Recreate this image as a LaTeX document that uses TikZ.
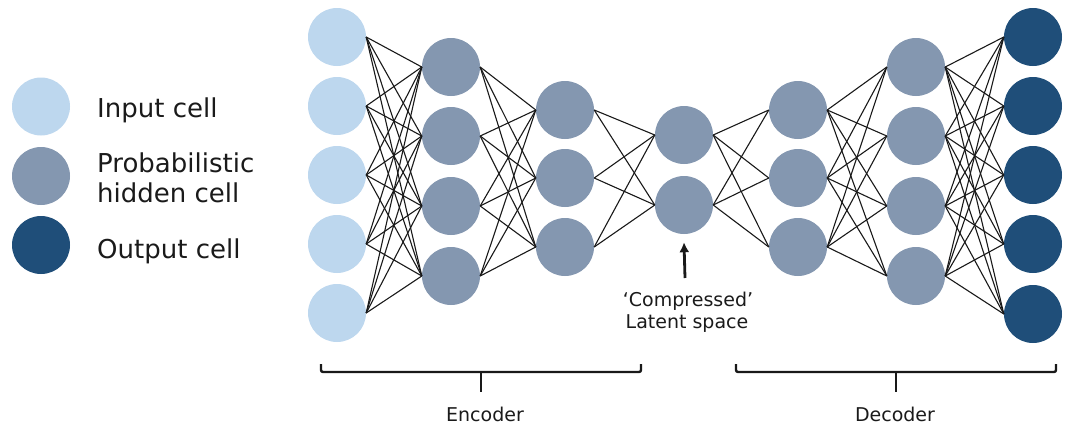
\documentclass[tikz,border=0pt]{standalone}
\usepackage{fontspec}
\setmainfont{DejaVu Sans}
\usetikzlibrary{arrows.meta}
\definecolor{incol}{HTML}{BDD7EE}
\definecolor{hidcol}{HTML}{8497B0}
\definecolor{outcol}{HTML}{1F4E79}
\definecolor{txtcol}{HTML}{1A1A1A}
\begin{document}
\begin{tikzpicture}[x=1pt,y=-1pt,
  cell/.style={circle,minimum size=58pt,inner sep=0pt,draw=none},
  incell/.style={cell,fill=incol},
  hidcell/.style={cell,fill=hidcol},
  outcell/.style={cell,fill=outcol},
  conn/.style={draw=black!90,line width=1.1pt},
  legend/.style={anchor=base west,font=\fontsize{26}{30}\selectfont,text=txtcol,inner sep=0pt},
  brace/.style={line width=2.4pt,draw=black!90,rounded corners=2pt},
  lab/.style={anchor=base,font=\fontsize{19}{22}\selectfont,text=txtcol,inner sep=0pt},
  uparrow/.style={line width=2.8pt,draw=black!90,-{Latex[length=10pt,width=10pt]}}]
\useasboundingbox (0,0) rectangle (1080,437);
% layers
\foreach \y [count=\k] in {37,106,175,244,313} \node[incell] (i\k) at (337,\y) {};
\foreach \y [count=\k] in {67,136,206,276} \node[hidcell] (a\k) at (451,\y) {};
\foreach \y [count=\k] in {110,178,247} \node[hidcell] (b\k) at (565,\y) {};
\foreach \y [count=\k] in {135,205} \node[hidcell] (l\k) at (684,\y) {};
\foreach \y [count=\k] in {110,178,247} \node[hidcell] (c\k) at (798,\y) {};
\foreach \y [count=\k] in {67,136,206,276} \node[hidcell] (d\k) at (916,\y) {};
\foreach \y [count=\k] in {37,106,175,244,314} \node[outcell] (o\k) at (1033,\y) {};
% connections
\foreach \s in {1,...,5} \foreach \t in {1,...,4} \draw[conn] (i\s.east) -- (a\t.west);
\foreach \s in {1,...,4} \foreach \t in {1,...,3} \draw[conn] (a\s.east) -- (b\t.west);
\foreach \s in {1,...,3} \foreach \t in {1,...,2} \draw[conn] (b\s.east) -- (l\t.west);
\foreach \s in {1,...,2} \foreach \t in {1,...,3} \draw[conn] (l\s.east) -- (c\t.west);
\foreach \s in {1,...,3} \foreach \t in {1,...,4} \draw[conn] (c\s.east) -- (d\t.west);
\foreach \s in {1,...,4} \foreach \t in {1,...,5} \draw[conn] (d\s.east) -- (o\t.west);
% legend
\node[incell] (lg1) at (41,106.5) {};
\node[hidcell] (lg2) at (41,176) {};
\node[outcell] (lg3) at (41,245) {};
\node[legend] (lt1) at (97,117) {Input cell};
\node[legend] (lt2a) at (97,172) {Probabilistic};
\node[legend] (lt2b) at (97,202) {hidden cell};
\node[legend] (lt3) at (97,258) {Output cell};
% latent label
\node[lab] (cmp1) at (688,306) {‘Compressed’};
\node[lab] (cmp2) at (687,328) {Latent space};
\coordinate (arrtail) at (685,278);
\draw[uparrow] (arrtail) -- ([yshift=-8pt]l2.south);
% brackets
\draw[brace] (321,364) -- (321,372) -- (641,372) -- (641,364);
\draw[brace] (481,372) -- (481,392);
\node[lab] (enc) at (485,421) {Encoder};
\draw[brace] (736,364) -- (736,372) -- (1056,372) -- (1056,364);
\draw[brace] (896,372) -- (896,392);
\node[lab] (dec) at (895,421) {Decoder};
\end{tikzpicture}
\end{document}
